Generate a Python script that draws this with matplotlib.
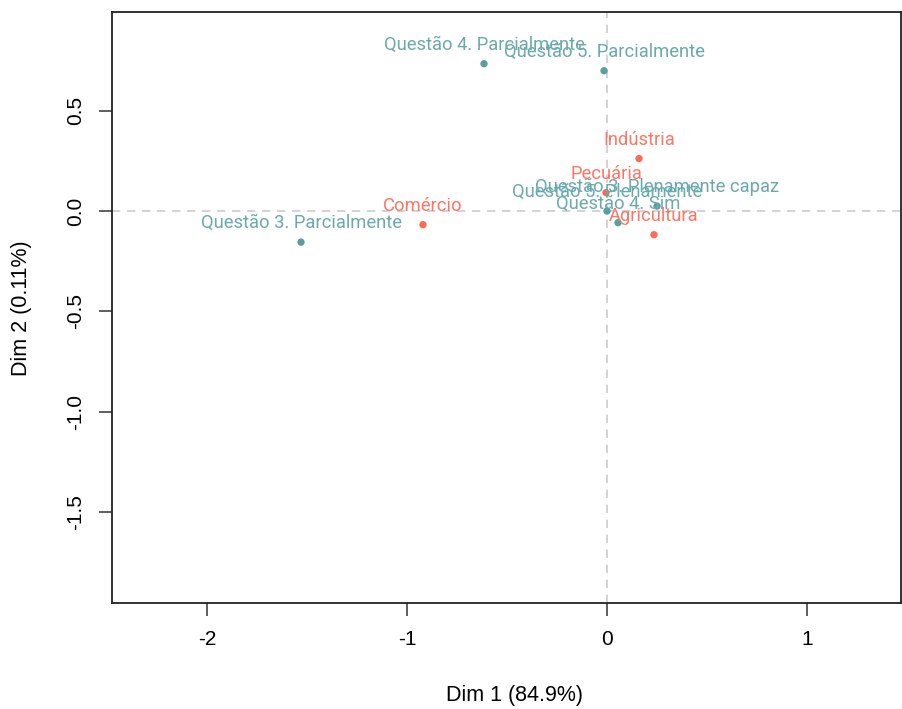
import matplotlib
matplotlib.use("Agg")
import matplotlib.pyplot as plt

# Category coordinates on the first two dimensions
row_names = ["Agricultura", "Comércio", "Indústria", "Pecuária"]
row_dim1 = [0.235, -0.92, 0.16, -0.005]
row_dim2 = [-0.118, -0.068, 0.262, 0.092]

col_names = ["Questão 3. Parcialmente", "Questão 3. Plenamente capaz",
             "Questão 4. Parcialmente", "Questão 4. Sim",
             "Questão 5. Parcialmente", "Questão 5. Plenamente"]
col_dim1 = [-1.53, 0.25, -0.615, 0.055, -0.015, 0.0]
col_dim2 = [-0.155, 0.025, 0.735, -0.058, 0.70, 0.0]

x_ticks = [-2, -1, 0, 1]
y_ticks = [-1.5, -1.0, -0.5, 0.0, 0.5]
x_label = "Dim 1 (84.9%)"
y_label = "Dim 2 (0.11%)"

teal = "#5a9ea2"
red = "#fd6a55"
teal_txt = "#6aa9ad"
red_txt = "#fe7565"

fig = plt.figure(figsize=(9.02, 7.09), dpi=100)
ax = fig.add_axes([112 / 902, 1 - 603 / 709, 789 / 902, (603 - 12) / 709])

ax.set_xlim(-2.475, 1.47)
ax.set_ylim(-1.955, 0.993)

ax.axhline(0, color="#cccccc", lw=1.2, ls=(0, (5, 4)), zorder=0)
ax.axvline(0, color="#cccccc", lw=1.2, ls=(0, (5, 4)), zorder=0)

ax.scatter(col_dim1, col_dim2, s=28, color=teal, edgecolors="none", zorder=3)
ax.scatter(row_dim1, row_dim2, s=28, color=red, edgecolors="none", zorder=3)

lab_font = dict(family="Roboto", fontsize=13.2)
for name, x, y in zip(col_names, col_dim1, col_dim2):
    ax.annotate(name, (x, y), xytext=(0, 13.5), textcoords="offset points",
                ha="center", va="center", color=teal_txt, **lab_font)
for name, x, y in zip(row_names, row_dim1, row_dim2):
    ax.annotate(name, (x, y), xytext=(0, 13.5), textcoords="offset points",
                ha="center", va="center", color=red_txt, **lab_font)

ax.set_xticks(x_ticks)
ax.set_xticklabels([str(v) for v in x_ticks], family="Liberation Sans", fontsize=15)
ax.set_yticks(y_ticks)
ax.set_yticklabels([f"{v:.1f}" for v in y_ticks], family="Liberation Sans",
                   fontsize=15, rotation=90, va="center")
ax.tick_params(axis="x", direction="out", length=9.5, width=1.1, color="#333333", pad=10)
ax.tick_params(axis="y", direction="out", length=9.5, width=1.1, color="#333333", pad=10)

for sp in ax.spines.values():
    sp.set_linewidth(1.3)
    sp.set_color("#222222")

fig.text(514 / 902, 1 - 695 / 709, x_label, ha="center", va="center",
         family="Liberation Sans", fontsize=15.5)
fig.text(22 / 902, 1 - 308 / 709, y_label, ha="center", va="center",
         family="Liberation Sans", fontsize=15.5, rotation=90)

fig.savefig("out.png", dpi=100)
